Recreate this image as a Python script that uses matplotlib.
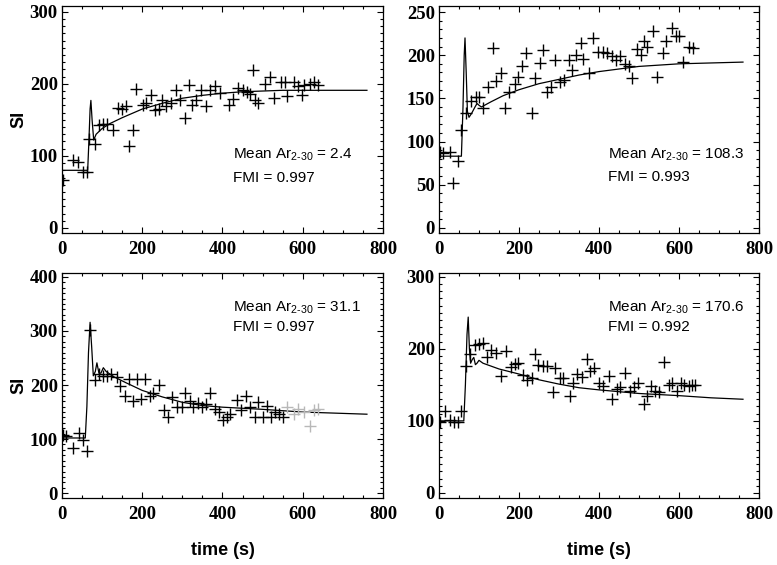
import matplotlib

matplotlib.use("Agg")
import matplotlib.pyplot as plt
from matplotlib.ticker import MultipleLocator

a_time = [3, 28, 39, 52, 62, 67, 81, 92, 102, 112, 127, 139, 150, 160, 168, 177, 185, 202, 210, 222,
          231, 242, 250, 260, 272, 285, 293, 306, 317, 325, 335, 347, 358, 370, 381, 393, 417, 427, 439, 452,
          460, 468, 477, 481, 489, 506, 519, 528, 546, 556, 560, 577, 589, 598, 603, 618, 628, 639]
a_si = [67, 94, 92, 77, 77, 123, 116, 143, 144, 144, 136, 166, 165, 169, 114, 136, 193, 171, 174, 185,
        163, 165, 177, 169, 174, 191, 177, 152, 199, 171, 177, 192, 169, 192, 197, 187, 170, 179, 194, 192,
        188, 186, 219, 178, 174, 200, 209, 181, 202, 202, 183, 202, 197, 185, 198, 200, 203, 198]

b_time = [2, 10, 27, 35, 47, 56, 67, 81, 93, 101, 111, 122, 135, 143, 154, 166, 175, 189, 197, 208,
          218, 233, 239, 253, 261, 270, 280, 289, 303, 313, 324, 333, 343, 355, 361, 376, 384, 397, 409, 419,
          432, 442, 453, 466, 474, 482, 494, 505, 513, 521, 536, 546, 559, 567, 582, 592, 600, 610, 625, 634]
b_si = [88, 87, 88, 52, 77, 113, 133, 147, 151, 151, 139, 163, 208, 170, 179, 139, 157, 167, 175, 188,
        202, 133, 174, 191, 206, 157, 163, 195, 169, 171, 194, 183, 200, 214, 196, 179, 220, 204, 204, 203,
        199, 195, 199, 190, 187, 173, 207, 200, 216, 209, 228, 175, 203, 216, 232, 222, 222, 192, 210, 208]

c_time = [3, 10, 28, 42, 52, 62, 70, 81, 93, 103, 112, 122, 137, 145, 156, 168, 177, 187, 198, 206,
          220, 228, 242, 253, 264, 273, 287, 298, 306, 318, 327, 339, 348, 358, 370, 381, 392, 402, 410, 418,
          435, 445, 458, 468, 481, 489, 500, 510, 520, 531, 542, 550]
c_si = [108, 105, 84, 111, 99, 78, 301, 209, 221, 217, 217, 220, 214, 198, 180, 211, 171, 211, 174, 211,
        180, 185, 200, 153, 141, 177, 159, 159, 185, 171, 159, 167, 159, 165, 185, 156, 150, 135, 141, 147,
        173, 153, 180, 159, 141, 168, 141, 161, 141, 150, 147, 141]
# late points drawn in light grey
c_time_grey = [560, 577, 589, 602, 618, 627, 639]
c_si_grey = [159, 147, 155, 150, 125, 153, 155]

d_time = [2, 14, 27, 37, 48, 56, 67, 77, 89, 100, 110, 119, 131, 142, 156, 167, 179, 190, 198, 211,
          219, 232, 240, 248, 259, 269, 286, 290, 303, 311, 328, 334, 346, 357, 370, 378, 388, 399, 410, 424,
          432, 445, 453, 466, 477, 487, 497, 512, 520, 530, 541, 549, 562, 574, 583, 595, 604, 612, 625, 633, 641]
d_si = [98, 114, 101, 98, 98, 114, 176, 193, 205, 206, 208, 189, 198, 194, 162, 197, 175, 179, 180, 164,
        157, 160, 193, 177, 176, 176, 140, 174, 160, 160, 135, 153, 165, 161, 186, 169, 174, 153, 148, 162,
        131, 144, 147, 166, 142, 147, 152, 124, 135, 148, 142, 140, 182, 150, 153, 142, 152, 150, 149, 150, 150]

# Fitted model curves
a_fit_t = [0, 64, 67, 70, 72, 75, 79, 85, 100, 120, 150, 200, 250, 300, 350, 400, 450, 500, 550, 600, 680, 760]
a_fit_si = [80, 80, 120, 165, 177, 150, 122, 130, 138, 145, 153, 165, 173, 180, 184, 187, 189, 190, 191, 191, 191, 191]

b_fit_t = [0, 56, 60, 63, 65, 68, 71, 75, 82, 90, 95, 100, 106, 130, 160, 200, 250, 300, 350, 400, 500, 600, 680, 760]
b_fit_si = [83, 83, 140, 200, 220, 180, 135, 128, 133, 140, 144, 142, 140, 146, 153, 160, 167, 172, 177, 181, 187, 190, 191, 192]

c_fit_t = [0, 58, 62, 66, 70, 74, 78, 83, 87, 92, 97, 103, 110, 130, 160, 200, 250, 300, 350, 400, 500, 600, 680, 760]
c_fit_si = [102, 102, 160, 260, 316, 270, 217, 225, 241, 222, 222, 232, 225, 215, 204, 190, 178, 168, 162, 159, 155, 150, 148, 146]

d_fit_t = [0, 62, 66, 70, 73, 76, 79, 83, 87, 91, 95, 100, 110, 150, 200, 250, 300, 350, 400, 500, 600, 680, 760]
d_fit_si = [100, 100, 150, 220, 244, 200, 180, 185, 188, 178, 180, 184, 180, 172, 165, 157, 151, 146, 143, 138, 135, 132, 130]

mean_ar = ["2.4", "108.3", "31.1", "170.6"]
fmi = ["0.997", "0.993", "0.997", "0.992"]
y_tops = [300, 250, 400, 300]
y_limits = [(-7, 308), (-6, 257), (-9, 407), (-7, 305)]
y_major = [100, 50, 100, 100]

tick_font = {"family": "Liberation Serif", "weight": "bold", "size": 13.5}
label_font = {"family": "Liberation Sans", "weight": "bold", "size": 13}

plt.rcParams["mathtext.fontset"] = "custom"
plt.rcParams["mathtext.rm"] = "Liberation Sans"
plt.rcParams["mathtext.it"] = "Liberation Sans"

fig = plt.figure(figsize=(7.77, 5.65), dpi=100)
positions = [
    [0.0798, 0.5876, 0.4131, 0.4018],
    [0.565, 0.5876, 0.4118, 0.4018],
    [0.0798, 0.1186, 0.4131, 0.398],
    [0.565, 0.1186, 0.4118, 0.398],
]
text_pos = [(0.533, 0.326, 0.226), (0.528, 0.326, 0.23), (0.533, 0.828, 0.744), (0.528, 0.828, 0.744)]

points = [(a_time, a_si), (b_time, b_si), (c_time, c_si), (d_time, d_si)]
fits = [(a_fit_t, a_fit_si), (b_fit_t, b_fit_si), (c_fit_t, c_fit_si), (d_fit_t, d_fit_si)]

for i in range(4):
    ax = fig.add_axes(positions[i])
    ax.plot(fits[i][0], fits[i][1], color="black", linewidth=0.9)
    ax.plot(points[i][0], points[i][1], linestyle="none", marker="+",
            markersize=8, markeredgewidth=1.0, color="black")
    if i == 2:
        ax.plot(c_time_grey, c_si_grey, linestyle="none", marker="+",
                markersize=8, markeredgewidth=1.0, color="#b8b8b8")

    ax.set_xlim(0, 800)
    ax.set_ylim(*y_limits[i])
    ax.xaxis.set_major_locator(MultipleLocator(200))
    ax.xaxis.set_minor_locator(MultipleLocator(50))
    ax.yaxis.set_major_locator(MultipleLocator(y_major[i]))
    ax.yaxis.set_minor_locator(MultipleLocator(10))
    ax.set_yticks(range(0, y_tops[i] + 1, y_major[i]))
    ax.tick_params(which="both", direction="in", top=True, right=True, width=0.8)
    ax.tick_params(which="major", length=4.5)
    ax.tick_params(which="minor", length=2.2)
    ax.tick_params(axis="x", pad=6)
    ax.tick_params(axis="y", pad=3)
    for lbl in ax.get_xticklabels() + ax.get_yticklabels():
        lbl.set_fontproperties(tick_font)
    for s in ax.spines.values():
        s.set_linewidth(0.9)

    tx, ty1, ty2 = text_pos[i]
    ax.text(tx, ty1, "Mean Ar$_{\\mathrm{2\u201030}}$ = " + mean_ar[i], transform=ax.transAxes,
            family="Liberation Sans", fontsize=11, va="baseline")
    ax.text(tx, ty2, "FMI = " + fmi[i], transform=ax.transAxes,
            family="Liberation Sans", fontsize=11, va="baseline")

    if i in (0, 2):
        ax.set_ylabel("SI", fontdict=label_font)
        ax.yaxis.set_label_coords(-0.109, 0.5)
    if i in (2, 3):
        ax.set_xlabel("time (s)", fontdict=label_font)
        ax.xaxis.set_label_coords(0.5, -0.195)

plt.savefig("out.png", dpi=100)
